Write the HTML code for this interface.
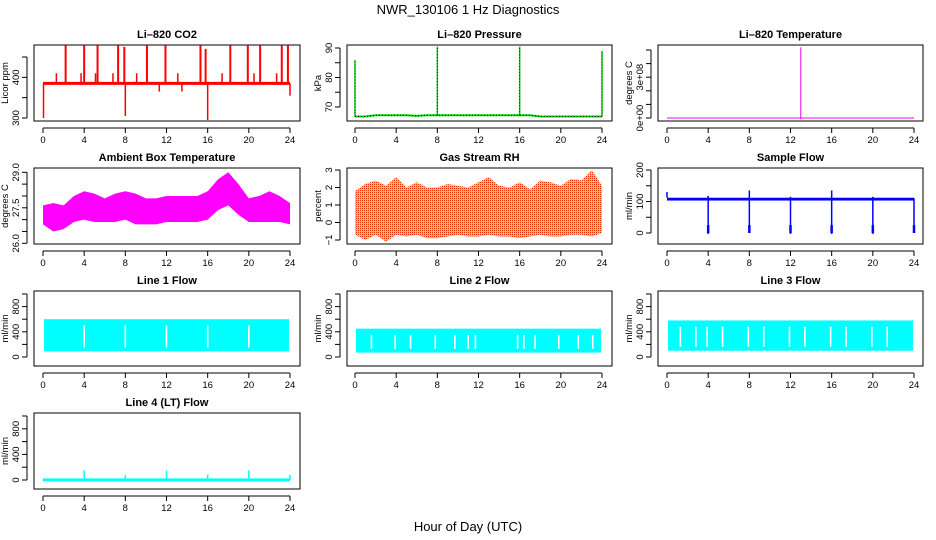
<!DOCTYPE html>
<html><head><meta charset="utf-8"><style>
html,body{margin:0;padding:0;background:#fff}
svg{display:block;font-family:"Liberation Sans",sans-serif}
</style></head><body>
<svg id="c" width="936" height="540" viewBox="0 0 936 540">
<text x="468" y="14" text-anchor="middle" font-size="13">NWR_130106  1 Hz Diagnostics</text>
<text x="468" y="531" text-anchor="middle" font-size="13">Hour of Day (UTC)</text>
<defs>
<pattern id="rhpat" width="2" height="2" patternUnits="userSpaceOnUse"><rect width="2" height="2" fill="#ffd000"/><rect width="1" height="1" fill="#e83000"/></pattern>
</defs>
</svg>
<script>
// ---- shared data ----
const xTicks = [0,4,8,12,16,20,24];
const envHours = [0,1,2,3,4,5,6,7,8,9,10,11,12,13,14,15,16,17,18,19,20,21,22,23,24];
// CO2
const co2Base = 385;
const co2SpikeHours = [0.05,1.3,2.2,3.7,4.0,5.1,5.3,6.8,7.3,7.9,8.0,9.1,10.1,11.3,11.9,13.1,13.5,15.3,15.8,16.0,17.4,18.2,19.9,20.5,21.1,22.7,23.2,23.8,24.0];
const co2SpikeVals  = [300,410,478,410,478,410,478,410,478,475,305,410,478,365,478,410,365,478,470,295,410,478,478,410,478,410,478,478,355];
// Pressure
const presBase = [66.8,66.8,67.2,67.2,67.2,67.2,67.0,67.2,67.2,67.2,67.2,67.2,67.2,67.2,67.2,67.2,67.2,67.2,66.8,66.8,66.8,66.8,66.8,66.8,66.8];
const presSpikeHours = [0,8,16,24];
const presSpikeVals = [86,90.5,90.5,89];
// Li-820 temperature
const tempBase = 0;
const tempSpikeHour = 13.0;
const tempSpikeVal = 5.2e8;
// Ambient box temperature
const ambHi = [27.6,27.7,27.6,28.0,28.2,28.1,27.9,28.1,28.2,28.1,27.9,27.9,28.0,28.0,28.0,28.0,28.2,28.7,29.0,28.5,27.9,28.0,28.2,28.0,27.7];
const ambLo = [26.8,26.5,26.6,26.9,27.0,26.9,26.9,26.9,27.0,26.8,26.8,26.8,26.9,26.9,26.9,26.9,27.0,27.4,27.6,27.2,26.9,26.9,26.9,26.9,26.8];
// Gas stream RH
const rhHi = [1.8,2.2,2.4,2.1,2.6,2.0,2.3,2.0,2.0,2.2,2.1,2.0,2.3,2.6,2.1,2.0,2.3,1.9,2.4,2.3,2.1,2.5,2.4,3.0,2.1];
const rhLo = [-0.7,-1.0,-0.7,-1.1,-0.7,-0.8,-0.7,-0.9,-0.9,-0.8,-0.7,-0.8,-0.8,-0.7,-0.8,-0.8,-0.9,-0.8,-0.7,-0.8,-0.8,-0.7,-0.7,-0.8,-0.6];
// Sample flow
const sfHi = 112, sfLo = 103;
const sfDipHours = [4,8,12,16,20,24];
const sfDipVals = [-3,0,-3,-3,-3,0];
const sfUpVals = [118,135,115,135,115,110];
// Line flows
const l1Hi = 600, l1Lo = 90, l1Gaps = [4,8,12,16,20];
const l2Hi = 450, l2Lo = 70, l2Gaps = [1.6,3.9,5.4,7.8,9.7,11.0,11.7,15.8,16.4,17.5,19.8,21.7,23.1];
const l3Hi = 580, l3Lo = 100, l3Gaps = [1.3,2.8,3.9,5.4,7.9,9.4,11.9,13.4,15.9,17.4,19.9,21.4];
const l4SpikeHours = [4,8,12,16,20,24];
const l4SpikeVals = [150,80,150,80,150,80];

const NS='http://www.w3.org/2000/svg';
const svg=document.getElementById('c');
function mk(tag,attrs,parent){const e=document.createElementNS(NS,tag);for(const k in attrs)e.setAttribute(k,attrs[k]);(parent||svg).appendChild(e);return e;}

const cols=[{l:34,r:300,h0:43,h24:290},{l:347,r:612,h0:355,h24:602},{l:658,r:923,h0:667,h24:914}];
const rows=[{t:45,b:121},{t:168,b:244},{t:291,b:366},{t:413,b:489}];

function panel(name,title,ci,ri,ylab,ymin,ymax,pmin,pmax,ticks,labels){
  const c=cols[ci],r=rows[ri];
  const g=mk('g',{});
  
  
  const X=h=>c.h0+(c.h24-c.h0)*h/24;
  const Y=v=>pmin+(pmax-pmin)*(v-ymin)/(ymax-ymin);
  const t=mk('text',{x:(c.l+c.r)/2,y:r.t-7,'text-anchor':'middle','font-size':11,'font-weight':'bold'},g);
  t.textContent=title;
  
  
  const plot=mk('g',{},g);
  
  
  const box=mk('rect',{x:c.l,y:r.t,width:c.r-c.l,height:r.b-r.t,fill:'none',stroke:'#000','stroke-width':1},g);
  
  
  const xa=mk('g',{},g);
  
  
  mk('line',{x1:X(0),x2:X(24),y1:r.b+7,y2:r.b+7,stroke:'#000'},xa);
  xTicks.forEach(h=>{mk('line',{x1:X(h),x2:X(h),y1:r.b+7,y2:r.b+12,stroke:'#000'},xa);
    const tx=mk('text',{x:X(h),y:r.b+22,'text-anchor':'middle','font-size':9.5},xa);tx.textContent=h;});
  const ya=mk('g',{},g);
  
  
  mk('line',{x1:c.l-7,x2:c.l-7,y1:Y(ticks[0]),y2:Y(ticks[ticks.length-1]),stroke:'#000'},ya);
  ticks.forEach((v,i)=>{const y=Y(v);mk('line',{x1:c.l-12,x2:c.l-7,y1:y,y2:y,stroke:'#000'},ya);
    if(labels[i]){const tx=mk('text',{x:0,y:0,'text-anchor':'middle','font-size':9.5,transform:`translate(${c.l-15},${y}) rotate(-90)`},ya);tx.textContent=labels[i];}});
  const yt=mk('text',{x:0,y:0,'text-anchor':'middle','font-size':9.5,transform:`translate(${c.l-26},${(r.t+r.b)/2}) rotate(-90)`},g);
  yt.textContent=ylab;
  
  
  return {X,Y,plot};
}
function envPoly(p,hi,lo,fill){
  let pts=envHours.map((h,i)=>p.X(h)+','+p.Y(hi[i]));
  pts=pts.concat(envHours.slice().reverse().map((h,j)=>{const i=envHours.length-1-j;return p.X(h)+','+p.Y(lo[i]);}));
  const e=mk('polygon',{points:pts.join(' '),fill:fill},p.plot);
  
  
}
function vline(p,h,v1,v2,col,w){const e=mk('line',{x1:p.X(h),x2:p.X(h),y1:p.Y(v1),y2:p.Y(v2),stroke:col,'stroke-width':w||1},p.plot);
  
  return e;}

// CO2
let p=panel('co2','Li\u2013820 CO2',0,0,'Licor ppm',300,450,118,57,[300,350,400,450],['300','','400','']);
let e=mk('line',{x1:p.X(0),x2:p.X(24),y1:p.Y(co2Base),y2:p.Y(co2Base),stroke:'red','stroke-width':3},p.plot);


co2SpikeHours.forEach((h,i)=>vline(p,h,co2Base,co2SpikeVals[i],'red',co2SpikeVals[i]>450?2:1.5));

// Pressure
p=panel('pressure','Li\u2013820 Pressure',1,0,'kPa',70,90,107,48,[70,75,80,85,90],['70','','80','','90']);
e=mk('polyline',{points:envHours.map((h,i)=>p.X(h)+','+p.Y(presBase[i])).join(' '),fill:'none',stroke:'#00dd00','stroke-width':2},p.plot);


mk('polyline',{points:envHours.map((h,i)=>p.X(h)+','+p.Y(presBase[i])).join(' '),fill:'none',stroke:'#000','stroke-width':1,'stroke-dasharray':'1,2'},p.plot);
presSpikeHours.forEach((h,i)=>{vline(p,h,presBase[Math.round(h)],presSpikeVals[i],'#00dd00',1.5);
  const d=vline(p,h,presBase[Math.round(h)],presSpikeVals[i],'#000',1);d.setAttribute('stroke-dasharray','1,2');});

// Li-820 temperature
p=panel('li820-temp','Li\u2013820 Temperature',2,0,'degrees C',0,5e8,118,50,[0,1e8,2e8,3e8,4e8,5e8],['0e+00','','','3e+08','','']);
e=mk('line',{x1:p.X(0),x2:p.X(24),y1:p.Y(tempBase),y2:p.Y(tempBase),stroke:'#ee00ee','stroke-width':1},p.plot);


vline(p,tempSpikeHour,tempBase-0.1e8,tempSpikeVal,'#ee00ee',1);

// Ambient
p=panel('ambient-temp','Ambient Box Temperature',0,1,'degrees C',26,29,243.3,172.3,[26,26.5,27,27.5,28,28.5,29],['26.0','','','27.5','','','29.0']);
envPoly(p,ambHi,ambLo,'#ff00ff');

// RH
p=panel('gas-rh','Gas Stream RH',1,1,'percent',-1,3,240,170,[-1,0,1,2,3],['\u22121','0','1','2','3']);
envPoly(p,rhHi,rhLo,'url(#rhpat)');

// Sample flow
p=panel('sample-flow','Sample Flow',2,1,'ml/min',0,200,233,170,[0,50,100,150,200],['0','','100','','200']);
e=mk('rect',{x:p.X(0),y:p.Y(sfHi),width:p.X(24)-p.X(0),height:p.Y(sfLo)-p.Y(sfHi),fill:'#0000ff'},p.plot);


vline(p,0,sfHi,130,'#0000ff',1.5);
sfDipHours.forEach((h,i)=>{vline(p,h,sfUpVals[i],sfDipVals[i],'#0000ff',1.5);vline(p,h,0,25,'#0000ff',2.5);});

// Line flows
function flow(name,title,ci,ri,hi,lo,gaps){
  const q=panel(name,title,ci,ri,'ml/min',0,1000,357,294,[0,200,400,600,800,1000],['0','','400','','800','']);
  const b=mk('rect',{x:q.X(0.1),y:q.Y(hi),width:q.X(23.9)-q.X(0.1),height:q.Y(lo)-q.Y(hi),fill:'#00ffff'},q.plot);
  
  
  gaps.forEach(h=>{const gg=mk('rect',{x:q.X(h)-0.8,y:q.Y(hi-100),width:1.6,height:q.Y(lo+60)-q.Y(hi-100),fill:'#fff'},q.plot);
    
    });
  return q;
}
flow('line1-flow','Line 1 Flow',0,2,l1Hi,l1Lo,l1Gaps);
flow('line2-flow','Line 2 Flow',1,2,l2Hi,l2Lo,l2Gaps);
flow('line3-flow','Line 3 Flow',2,2,l3Hi,l3Lo,l3Gaps);

// Line 4
p=panel('line4-flow','Line 4 (LT) Flow',0,3,'ml/min',0,1000,480,416,[0,200,400,600,800,1000],['0','','400','','800','']);
e=mk('rect',{x:p.X(0),y:p.Y(25),width:p.X(24)-p.X(0),height:3,fill:'#00ffff'},p.plot);


l4SpikeHours.forEach((h,i)=>vline(p,h,0,l4SpikeVals[i],'#00ffff',1.5));
</script>
</body></html>
